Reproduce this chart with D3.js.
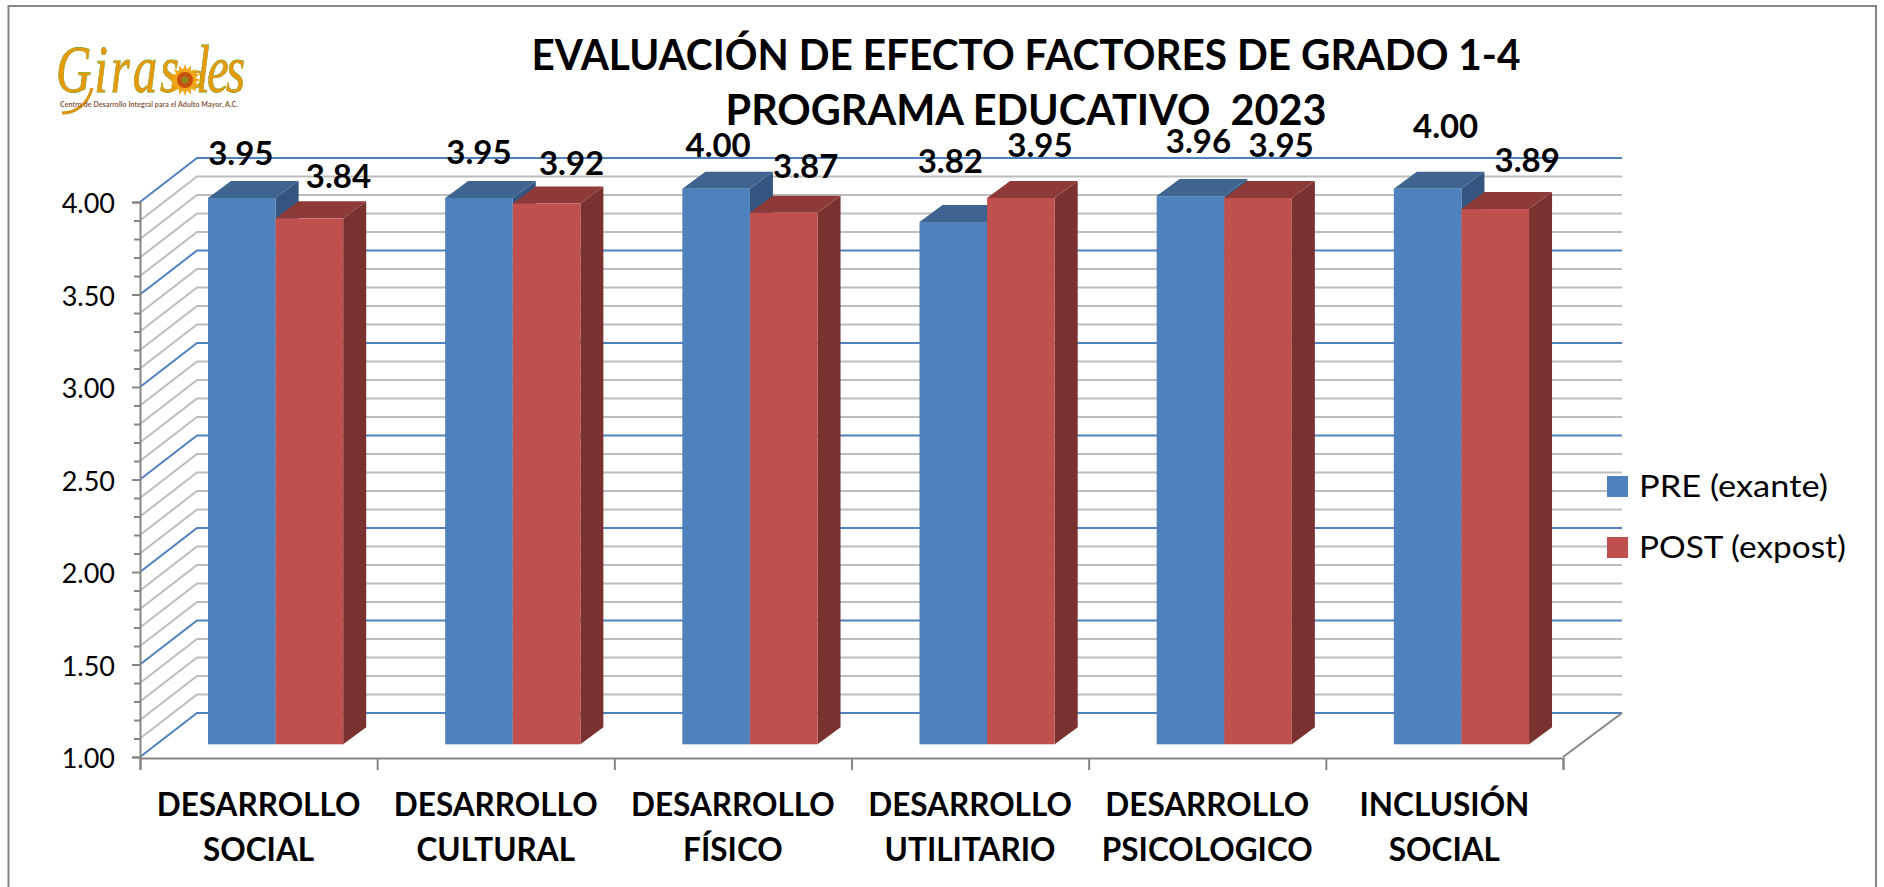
<!DOCTYPE html>
<html>
<head>
<meta charset="utf-8">
<script src="https://cdn.jsdelivr.net/npm/d3@7"></script>
<style>
  html, body { margin: 0; padding: 0; background: #fff; }
  svg { display: block; }
  text { font-family: Lato, "Open Sans", sans-serif; fill: #000; }
</style>
</head>
<body>
<div class="chart"></div>
<script>
const categories = [
  ["DESARROLLO", "SOCIAL"],
  ["DESARROLLO", "CULTURAL"],
  ["DESARROLLO", "FÍSICO"],
  ["DESARROLLO", "UTILITARIO"],
  ["DESARROLLO", "PSICOLOGICO"],
  ["INCLUSIÓN", "SOCIAL"]
];
const preValues = [3.95, 3.95, 4.00, 3.82, 3.96, 4.00];
const postValues = [3.84, 3.92, 3.87, 3.95, 3.95, 3.89];
const seriesNames = ["PRE (exante)", "POST (expost)"];
const yTicks = [1, 1.5, 2, 2.5, 3, 3.5, 4];
const titleLines = ["EVALUACIÓN DE EFECTO FACTORES DE GRADO 1-4", "PROGRAMA EDUCATIVO  2023"];

// los rotulos en el original estan movidos a mano: [dx, baseline sobre la barra]
const preNudge = [[-1, 33], [0, 34], [2, 32], [-3, 49], [8, 43], [18, 51]];
const postNudge = [[29, 30], [25, 29], [22, 35], [19, 41], [23, 41], [32, 37]];

const width = 1884, height = 887;
const depthX = 57, depthY = 44;   // desplazamiento pared del fondo
const barDX = 23, barDY = 17;     // profundidad de cada barra

const svg = d3.select(".chart").append("svg")
  .attr("width", width)
  .attr("height", height);

// marco
svg.append("path")
  .attr("d", `M8.5,${height}V6H1876V${height}`)
  .attr("fill", "none")
  .attr("stroke", "#868686")
  .attr("stroke-width", 2);

const x = d3.scaleBand().domain(d3.range(categories.length)).range([140, 1563]);
const y = d3.scaleLinear().domain([1, 4]).range([757, 202]);
const barY = d3.scaleLinear().domain([1, 4]).range([744.3, 188.7]);
const barX = i => x(i) + 68;
const barW = 67.6;

// rejilla en pared lateral y fondo
const minor = d3.range(0, 31).map(d => 1 + d / 10);
const isMajor = v => Math.round(v * 10) % 5 === 0;
const grid = svg.append("g").attr("fill", "none");
grid.selectAll("path")
  .data(minor)
  .enter()
  .append("path")
  .attr("d", d => `M140,${y(d)}L${140 + depthX},${y(d) - depthY}H1622`)
  .attr("stroke", d => isMajor(d) ? "#4f81bd" : "#bdbdbd")
  .attr("stroke-width", 2);

// piso
grid.append("path")
  .attr("d", `M1563,${y(1)}L1622,${y(1) - depthY}`)
  .attr("stroke", "#868686")
  .attr("stroke-width", 2);

// ejes
const yAxis = d3.axisLeft(y)
  .tickValues(yTicks)
  .tickFormat(d3.format(".2f"))
  .tickSize(8)
  .tickPadding(17);
const gy = svg.append("g").attr("transform", "translate(140,0)").call(yAxis);
gy.selectAll(".tick text").attr("font-size", 27).attr("font-family", "Lato").attr("dy", "0.4em");
gy.selectAll(".tick line").attr("stroke", "#868686").attr("stroke-width", 2);
gy.select(".domain").attr("stroke", "#868686").attr("stroke-width", 2);

const yMinor = d3.axisLeft(y).tickValues(minor.filter(d => !isMajor(d))).tickSize(6).tickFormat("");
const gym = svg.append("g").attr("transform", "translate(140,0)").call(yMinor);
gym.select(".domain").remove();
gym.selectAll(".tick line").attr("stroke", "#868686").attr("stroke-width", 2);

const xTicks = d3.scaleLinear().domain([0, categories.length]).range([140, 1563]);
const xAxis = d3.axisBottom(xTicks).ticks(categories.length).tickSize(12).tickFormat("");
const gx = svg.append("g").attr("transform", `translate(0,${y(1) + 1})`).call(xAxis);
gx.select(".domain").attr("stroke", "#868686").attr("stroke-width", 2);
gx.selectAll(".tick line").attr("stroke", "#868686").attr("stroke-width", 2);

// barras 3D
const series = [
  { values: preValues, offset: 0, front: "#4f81bd", top: "#3f648f", side: "#34557f" },
  { values: postValues, offset: barW, front: "#c0504d", top: "#8e3a38", side: "#7a3230" }
];

series.forEach(s => {
  const g = svg.append("g");
  const bars = g.selectAll("g")
    .data(s.values)
    .enter()
    .append("g");
  const left = (d, i) => barX(i) + s.offset;
  bars.append("path")
    .attr("fill", s.side)
    .attr("d", (d, i) => {
      const r = left(d, i) + barW;
      return `M${r},${barY(d)}l${barDX},${-barDY}V${barY(1) - barDY}L${r},${barY(1)}Z`;
    });
  bars.append("path")
    .attr("fill", s.top)
    .attr("d", (d, i) => `M${left(d, i)},${barY(d)}l${barDX},${-barDY}h${barW}l${-barDX},${barDY}Z`);
  bars.append("rect")
    .attr("x", left)
    .attr("y", d => barY(d))
    .attr("width", barW)
    .attr("height", d => barY(1) - barY(d))
    .attr("fill", s.front);
});

// rotulos de valor
const valueFmt = d3.format(".2f");
[[preValues, preNudge, 0], [postValues, postNudge, barW]].forEach(([vals, nudge, off]) => {
  svg.append("g").selectAll("text")
    .data(vals)
    .enter()
    .append("text")
    .attr("x", (d, i) => barX(i) + off + barW / 2 + nudge[i][0])
    .attr("y", (d, i) => barY(d) - nudge[i][1])
    .attr("text-anchor", "middle")
    .attr("font-size", 33)
    .attr("font-weight", 700)
    .text(d => valueFmt(d));
});

// etiquetas de categoria
const catG = svg.append("g").selectAll("text")
  .data(categories)
  .enter()
  .append("text")
  .attr("text-anchor", "middle")
  .attr("font-size", 31.5)
  .attr("font-weight", 700);
catG.selectAll("tspan")
  .data((d, i) => d.map(t => ({ t, i })))
  .enter()
  .append("tspan")
  .attr("x", d => x(d.i) + x.bandwidth() / 2)
  .attr("y", (d, j) => 816 + j * 45)
  .text(d => d.t);

// titulo
const titleWidths = [989, 601];
svg.append("g").selectAll("text")
  .data(titleLines)
  .enter()
  .append("text")
  .attr("x", 1026)
  .attr("y", (d, i) => 70 + i * 55)
  .attr("text-anchor", "middle")
  .attr("font-size", 42)
  .attr("font-weight", 700)
  .attr("textLength", (d, i) => titleWidths[i])
  .attr("lengthAdjust", "spacingAndGlyphs")
  .style("white-space", "pre")
  .text(d => d);

// leyenda
const legendColor = d3.scaleOrdinal().domain(seriesNames).range(["#4f81bd", "#c0504d"]);
const legendY = d3.scalePoint().domain(seriesNames).range([476, 537]);
const legendWidths = [189, 207];
const legend = svg.append("g").selectAll("g")
  .data(seriesNames)
  .enter()
  .append("g")
  .attr("transform", d => `translate(1607,${legendY(d)})`);
legend.append("rect").attr("width", 21).attr("height", 21).attr("fill", d => legendColor(d));
legend.append("text")
  .attr("x", 32)
  .attr("y", 21)
  .attr("font-size", 31)
  .attr("textLength", (d, i) => legendWidths[i])
  .attr("lengthAdjust", "spacingAndGlyphs")
  .text(d => d);

// logo
const logo = svg.append("g");
logo.append("path")
  .attr("d", "M92,88C88,104 76,113 62,113")
  .attr("fill", "none")
  .attr("stroke", "#d9950f")
  .attr("stroke-width", 3);
const logoText = logo.append("text")
  .attr("transform", "translate(56,92) scale(0.72,1)")
  .style("font-family", "'Liberation Serif', serif")
  .style("font-style", "italic")
  .style("fill", "#e39a0c")
  .style("stroke", "#5f9a1e")
  .style("stroke-width", 0.8)
  .style("paint-order", "stroke")
  .attr("font-size", 68);
logoText.append("tspan").style("letter-spacing", "4px").text("Giras");
logoText.append("tspan").attr("dx", 12).attr("dy", -4).attr("font-size", 36).text("o");
logoText.append("tspan").attr("dx", -10).attr("dy", 4).style("letter-spacing", "-4px").text("les");
logo.append("text")
  .attr("x", 60).attr("y", 107)
  .style("fill", "#8a5a44")
  .attr("font-size", 7)
  .attr("font-weight", 700)
  .attr("textLength", 178)
  .text("Centro de Desarrollo Integral para el Adulto Mayor, A.C.");
const flower = logo.append("g").attr("transform", "translate(185,80)");
flower.append("circle").attr("r", 11).attr("fill", "#f2a516");
flower.selectAll("path")
  .data(d3.range(16))
  .enter()
  .append("path")
  .attr("d", "M-3.5,-6L0,-16L3.5,-6Z")
  .attr("fill", "#f2a516")
  .attr("transform", d => `rotate(${d * 22.5})`);
flower.append("circle").attr("r", 8).attr("fill", "#c8500f");
flower.append("circle").attr("r", 3.5).attr("fill", "#8a8a1e");
</script>
</body>
</html>
